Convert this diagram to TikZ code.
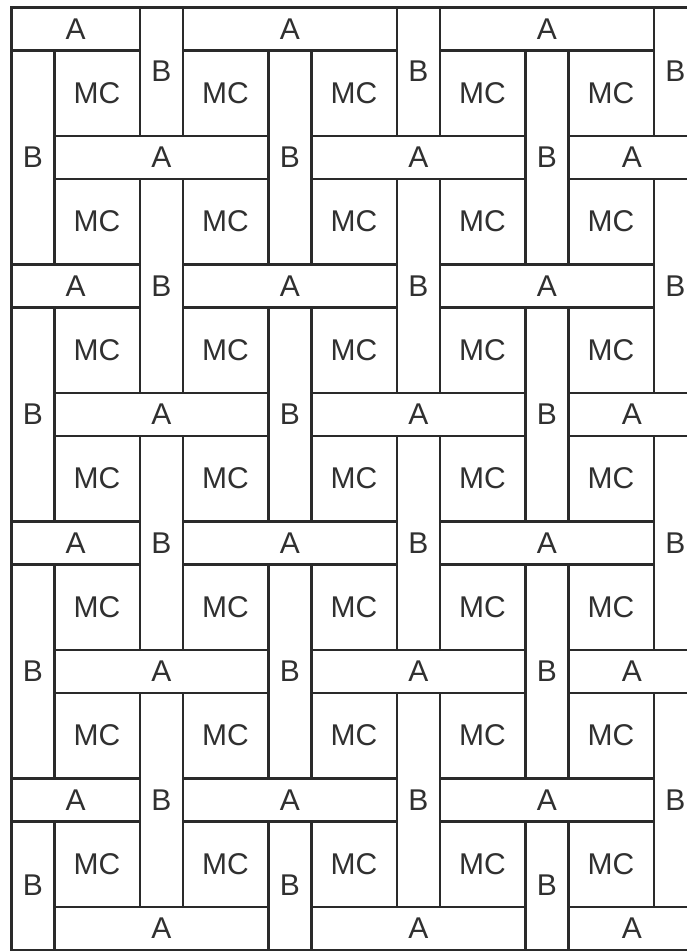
\documentclass[tikz,border=0pt]{standalone}
\usepackage{fontspec}
\setmainfont{Liberation Sans}
\usepackage{xcolor}
\usepackage{tikz}
\definecolor{weaveline}{RGB}{42,42,42}
\definecolor{weavetext}{RGB}{48,48,48}

\begin{document}
\begin{tikzpicture}[
    x=1pt, y=-1pt,
    every node/.style={font=\fontsize{30}{30}\selectfont, text=weavetext},
    piece/.style={rectangle, draw=weaveline, line width=2.6pt, fill=white, inner sep=0pt, anchor=north west},
    mcbox/.style={piece, minimum width=85.5pt, minimum height=85.5pt}
]

\useasboundingbox (0,0) rectangle (687,951);

% strips: A across, B down
\foreach \i in {0,...,5}{
  \foreach \j in {0,...,7}{
    \pgfmathsetmacro{\stripX}{10+128.5*\i}
    \pgfmathsetmacro{\stripY}{6+128.5*\j}
    \pgfmathtruncatemacro{\odd}{mod(\i+\j,2)}
    \ifnum\odd=0
      \pgfmathsetmacro{\segL}{max(10,\stripX-85.5)}
      \pgfmathsetmacro{\segW}{min(694,\stripX+128.5)-\segL}
      \node[piece, minimum width=\segW pt, minimum height=43pt] (a-\i-\j) at (\segL,\stripY) {A};
    \else
      \pgfmathsetmacro{\segT}{max(6,\stripY-85.5)}
      \pgfmathsetmacro{\segH}{min(948.5,\stripY+128.5)-\segT}
      \node[piece, minimum width=43pt, minimum height=\segH pt] (b-\i-\j) at (\stripX,\segT) {B};
    \fi
  }
}

% the squares between
\foreach \i in {0,...,4}{
  \foreach \j in {0,...,6}{
    \node[mcbox] (mc-\i-\j) at (53+128.5*\i, 49+128.5*\j) {MC};
  }
}

\end{tikzpicture}
\end{document}
